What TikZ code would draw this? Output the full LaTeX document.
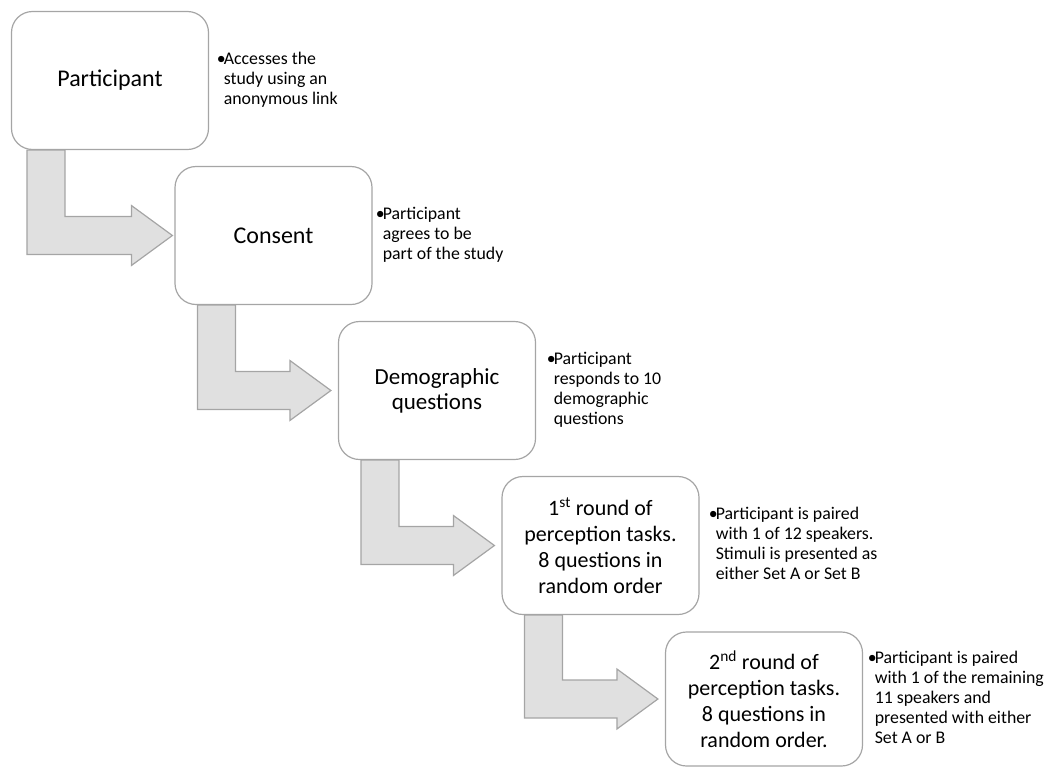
\documentclass[tikz,border=0pt]{standalone}
\usepackage{fontspec}
\setmainfont{Carlito}
\usetikzlibrary{calc,positioning}
\definecolor{edgegray}{HTML}{A5A5A5}
\definecolor{arrowfill}{HTML}{E0E0E0}
\tikzset{
stepbox/.style={draw=edgegray, line width=1.2pt, fill=white, rounded corners=21pt,
    minimum width=197pt, minimum height=138pt, align=center, inner sep=0pt},
note/.style={anchor=west, align=left, inner sep=0pt, font=\fontsize{17.8}{20}\selectfont},
flowarrow/.style={draw=edgegray, fill=arrowfill, line width=1.2pt, line join=miter},
}
\newcommand{\bulleted}[1]{\makebox[7pt][l]{\textbullet}\begin{tabular}[t]{@{}l@{}}#1\end{tabular}}

\begin{document}
\begin{tikzpicture}[x=1pt,y=-1pt]
\useasboundingbox (0,0) rectangle (1049,766);
% steps
\node[stepbox, font=\fontsize{24}{28}\selectfont] (part) at (110,80.5) {Participant};
\node[stepbox, font=\fontsize{24}{28}\selectfont] (cons) at (273.5,235.5) {Consent};
\node[stepbox, font=\fontsize{23}{25}\selectfont] (demo) at (437,390.5) {Demographic\\questions};
\node[stepbox, font=\fontsize{22}{26}\selectfont] (rnda) at (600.5,545.5)
    {1\textsuperscript{st} round of\\perception tasks.\\8 questions in\\random order};
\node[stepbox, minimum height=134pt, font=\fontsize{22}{26}\selectfont] (rndb) at (764,699)
    {2\textsuperscript{nd} round of\\perception tasks.\\8 questions in\\random order.};
% notes
\node[note, right=7.5pt of part] (partnote) {\bulleted{Accesses the\\study using an\\anonymous link}};
\node[note, right=3pt of cons] (consnote) {\bulleted{Participant\\agrees to be\\part of the study}};
\node[note, right=10.5pt of demo] (demonote) {\bulleted{Participant\\responds to 10\\demographic\\questions}};
\node[note, right=9pt of rnda] (rndanote) {\bulleted{Participant is paired\\with 1 of 12 speakers.\\Stimuli is presented as\\either Set A or Set B}};
\node[note, right=4.5pt of rndb] (rndbnote) {\bulleted{Participant is paired\\with 1 of the remaining\\11 speakers and\\presented with either\\Set A or B}};
% bent arrows
\foreach \a/\b/\o/\g in {part/cons/16/2, cons/demo/23/7, demo/rnda/23/7, rnda/rndb/23/7}{
  \draw[flowarrow] let \p1=(\a.south west), \p2=(\b.west) in
    (\x1+\o*1pt,\y1) -- (\x1+\o*1pt,\y2-19pt) -- (\x2-\g*1pt-41pt,\y2-19pt)
    -- (\x2-\g*1pt-41pt,\y2-30pt) -- (\x2-\g*1pt,\y2) -- (\x2-\g*1pt-41pt,\y2+30pt)
    -- (\x2-\g*1pt-41pt,\y2+19pt) -- (\x1+\o*1pt+38pt,\y2+19pt) -- (\x1+\o*1pt+38pt,\y1) -- cycle;
}
\end{tikzpicture}
\end{document}
